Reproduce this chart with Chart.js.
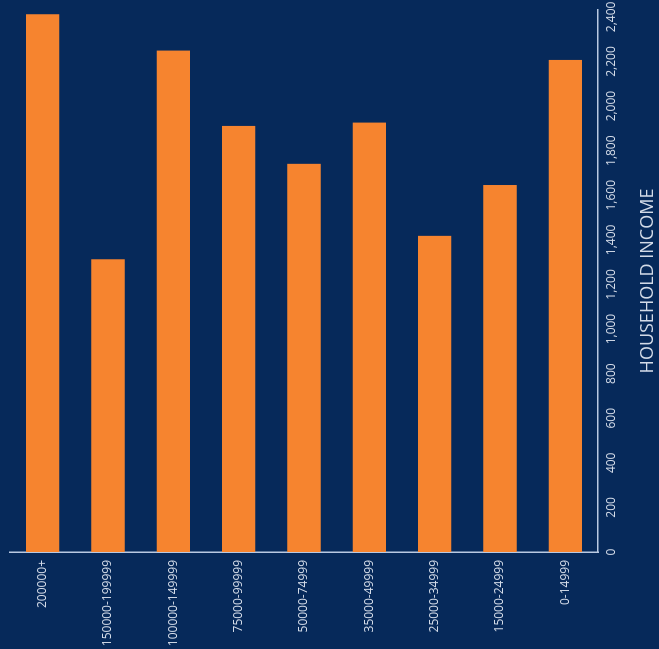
<!DOCTYPE html>
<html>
<head>
<meta charset="utf-8">
<script src="https://cdn.jsdelivr.net/npm/chart.js@4/dist/chart.umd.min.js"></script>
<style>
  html, body { margin: 0; padding: 0; width: 659px; height: 649px; overflow: hidden; background: #06295a; }
  #wrap { position: absolute; left: 5px; top: -5px; width: 649px; height: 659px; transform: rotate(-90deg); transform-origin: 50% 50%; }
</style>
</head>
<body>
<div id="wrap"><canvas id="c" width="649" height="659"></canvas></div>
<script>
const categories = ["200000+", "150000-199999", "100000-149999", "75000-99999", "50000-74999", "35000-49999", "25000-34999", "15000-24999", "0-14999"];
const households = [2412, 1313, 2249, 1911, 1741, 1926, 1418, 1646, 2207];
const tickValues = [0, 200, 400, 600, 800, 1000, 1200, 1400, 1600, 1800, 2000, 2200, 2400];
const axisTitle = "HOUSEHOLD INCOME";
const axisMax = 2431;

const textColor = "#d3dbe8";
const lineColor = "#b9c9e2";

new Chart(document.getElementById("c"), {
  type: "bar",
  data: {
    labels: categories,
    datasets: [{
      data: households,
      backgroundColor: "#f6842f",
      borderWidth: 0,
      categoryPercentage: 1,
      barPercentage: 0.51
    }]
  },
  options: {
    indexAxis: "y",
    responsive: false,
    animation: false,
    devicePixelRatio: 1,
    layout: { padding: { top: 10, right: 10, left: 0, bottom: 0 } },
    plugins: { legend: { display: false }, tooltip: { enabled: false } },
    scales: {
      x: {
        position: "bottom",
        min: 0,
        max: axisMax,
        grid: { display: false, drawTicks: false },
        border: { display: true, color: lineColor, width: 1.5 },
        ticks: {
          autoSkip: false, maxRotation: 0, color: textColor, padding: 6,
          font: { family: "'Open Sans', sans-serif", size: 12 },
          callback: (v) => Number(v).toLocaleString("en-US")
        },
        afterBuildTicks: (s) => { s.ticks = tickValues.map(v => ({ value: v })); },
        title: { display: true, text: axisTitle, color: textColor, padding: { top: 4, bottom: 0 }, font: { family: "'Open Sans', sans-serif", size: 18 } },
        afterFit: (s) => { s.height = 61; s.paddingLeft = 0; s.paddingRight = 0; }
      },
      y: {
        grid: { display: false, drawTicks: false },
        border: { display: true, color: lineColor, width: 1.5 },
        ticks: { color: textColor, padding: 8, font: { family: "'Open Sans', sans-serif", size: 12 } },
        afterFit: (s) => { s.width = 97; s.paddingTop = 0; s.paddingBottom = 0; }
      }
    }
  }
});
</script>
</body>
</html>
